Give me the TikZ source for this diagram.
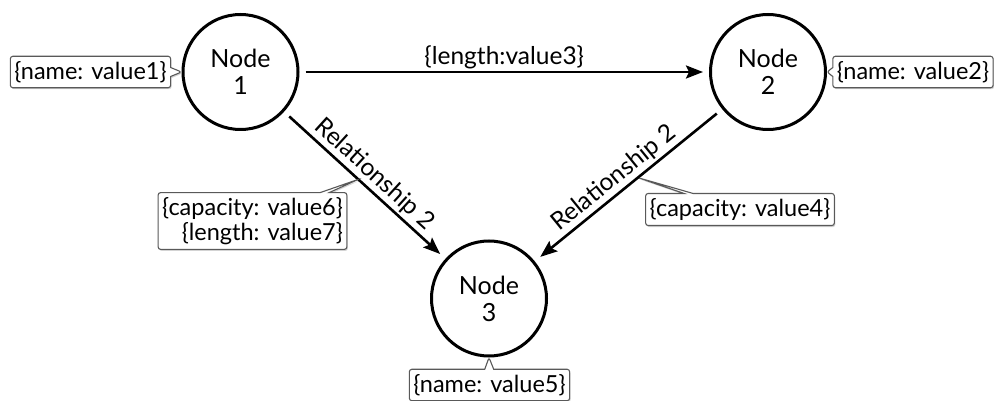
\documentclass[tikz,border=0pt]{standalone}
\usepackage{fontspec}
\setmainfont{Lato}
\usetikzlibrary{shapes.callouts,shadows,arrows.meta}
\begin{document}
\begin{tikzpicture}[x=1pt,y=-1pt,
  gnode/.style={circle, draw=black, line width=3pt, minimum size=115pt, inner sep=0pt, align=center, font=\fontsize{25}{27}\selectfont},
  rel/.style={line width=2.6pt, -{Stealth[length=17pt,width=13pt,inset=3pt]}, shorten <=6pt, shorten >=6pt},
  lbl/.style={font=\fontsize{24.5}{26}\selectfont, inner sep=2pt},
  prop/.style={rectangle callout, rounded corners=2.5pt, draw=black!65, line width=1.1pt, fill=white,
    font=\fontsize{23.5}{24.5}\selectfont, inner xsep=4pt, inner ysep=5pt, callout pointer width=9pt,
    drop shadow={shadow xshift=1pt, shadow yshift=-1.5pt, opacity=0.35}}]
\useasboundingbox (0,0) rectangle (994,401);
\clip (0,0) rectangle (994,401);
\node[gnode] (n1) at (240.5,72) {Node\\1};
\node[gnode] (n2) at (768,72) {Node\\2};
\node[gnode] (n3) at (489,298.5) {Node\\3};
\draw[rel] (n1) -- node[lbl, above] (l3) {\{length:value3\}} (n2);
\draw[rel, shorten <=7pt, shorten >=7pt] (n1) -- node[lbl, sloped, above] (r1) {Relationship 2} coordinate[pos=0.46] (p1) (n3);
\draw[rel, shorten <=7pt, shorten >=7pt] (n2) -- node[lbl, sloped, above, pos=0.53] (r2) {Relationship 2} coordinate[pos=0.45] (p2) (n3);
\node[prop, callout absolute pointer={(n1.west)}] (c1) at (90.5,72) {\{name: value1\}};
\node[prop, callout absolute pointer={(n2.east)}] (c2) at (913,72) {\{name: value2\}};
\node[prop, align=right, callout absolute pointer={(p1)}] (c6) at (252.5,221) {\{capacity: value6\}\\\{length: value7\}};
\node[prop, callout absolute pointer={(p2)}] (c4) at (740,209.5) {\{capacity: value4\}};
\node[prop, callout absolute pointer={(n3.south)}] (c5) at (489.5,385) {\{name: value5\}};
\end{tikzpicture}
\end{document}
